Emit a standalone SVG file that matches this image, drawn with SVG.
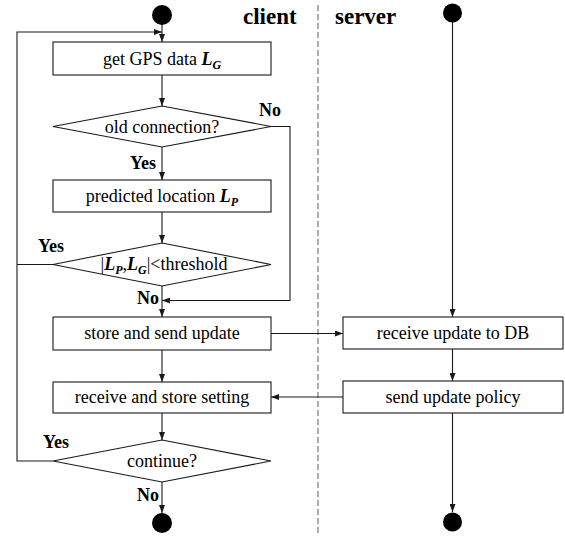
<svg xmlns="http://www.w3.org/2000/svg" width="565" height="536" viewBox="0 0 565 536">
  <defs>
    <marker id="arr" viewBox="0 0 8 6" refX="8" refY="3" markerWidth="8" markerHeight="6" markerUnits="userSpaceOnUse" orient="auto">
      <path d="M0,0 L8,3 L0,6 z" fill="#1a1a1a"/>
    </marker>
    <style>
      .box { fill: #ffffff; stroke: #1a1a1a; stroke-width: 1.1; }
      .dot { fill: #000000; }
      .line { fill: none; stroke: #1a1a1a; stroke-width: 1.1; }
      .arrow { fill: none; stroke: #1a1a1a; stroke-width: 1.1; marker-end: url(#arr); }
      .lane { fill: none; stroke: #777777; stroke-width: 1.2; stroke-dasharray: 6 3; }
      .txt { font-family: "Liberation Serif", "Times New Roman", serif; font-size: 18px; fill: #000; text-anchor: middle; }
      .lbl { font-family: "Liberation Serif", "Times New Roman", serif; font-size: 18px; font-weight: bold; fill: #000; }
      .head { font-family: "Liberation Serif", "Times New Roman", serif; font-size: 23px; font-weight: bold; fill: #000; }
      .var { font-weight: bold; font-style: italic; }
      .sub { font-weight: bold; font-style: italic; font-size: 12px; }
    </style>
  </defs>

  <!-- lane headings and separator -->
  <text class="head" x="243" y="24">client</text>
  <text class="head" x="335" y="24">server</text>
  <line class="lane" x1="318" y1="5" x2="318" y2="536"/>

  <!-- connectors -->
  <g id="connectors">
    <line class="arrow" x1="162" y1="24" x2="162" y2="42"/>
    <polyline class="arrow" points="53,461 17,461 17,32 162,32"/>
    <line class="line" x1="53" y1="264.5" x2="17" y2="264.5"/>
    <line class="arrow" x1="162" y1="75" x2="162" y2="106"/>
    <line class="arrow" x1="162" y1="147" x2="162" y2="180"/>
    <line class="arrow" x1="162" y1="212" x2="162" y2="243"/>
    <line class="arrow" x1="162" y1="286" x2="162" y2="317"/>
    <polyline class="arrow" points="271,126.5 290,126.5 290,300.5 162,300.5"/>
    <line class="arrow" x1="162" y1="350" x2="162" y2="382"/>
    <line class="arrow" x1="162" y1="413" x2="162" y2="440"/>
    <line class="arrow" x1="162" y1="482" x2="162" y2="513"/>
    <line class="arrow" x1="271" y1="333.5" x2="343" y2="333.5"/>
    <line class="arrow" x1="343" y1="397" x2="271" y2="397"/>
    <line class="arrow" x1="452.5" y1="22" x2="452.5" y2="317"/>
    <line class="arrow" x1="452.5" y1="349" x2="452.5" y2="381"/>
    <line class="arrow" x1="452.5" y1="413" x2="452.5" y2="512"/>
  </g>

  <!-- client lane -->
  <g id="client-start"><circle class="dot" cx="162" cy="15" r="10"/></g>

  <g id="get-gps">
    <rect class="box" x="53" y="42" width="218" height="33"/>
    <text class="txt" x="162" y="65">get GPS data <tspan class="var">L</tspan><tspan class="sub" dy="4">G</tspan></text>
  </g>

  <g id="old-connection">
    <polygon class="box" points="162,106 271,126.5 162,147 53,126.5"/>
    <text class="txt" x="162" y="133">old connection?</text>
    <text class="lbl" x="259" y="116">No</text>
    <text class="lbl" x="130" y="169">Yes</text>
  </g>

  <g id="predicted-location">
    <rect class="box" x="53" y="180" width="218" height="32"/>
    <text class="txt" x="162" y="202">predicted location <tspan class="var">L</tspan><tspan class="sub" dy="4">P</tspan></text>
  </g>

  <g id="threshold">
    <polygon class="box" points="162,243 271,264.5 162,286 53,264.5"/>
    <text class="txt" x="164" y="270">|<tspan class="var">L</tspan><tspan class="sub" dy="4">P</tspan><tspan dy="-4">,</tspan><tspan class="var">L</tspan><tspan class="sub" dy="4">G</tspan><tspan dy="-4">|&lt;threshold</tspan></text>
    <text class="lbl" x="38" y="252">Yes</text>
    <text class="lbl" x="137" y="304">No</text>
  </g>

  <g id="store-send">
    <rect class="box" x="53" y="317" width="218" height="33"/>
    <text class="txt" x="162" y="339">store and send update</text>
  </g>

  <g id="receive-store">
    <rect class="box" x="53" y="382" width="218" height="31"/>
    <text class="txt" x="162" y="403">receive and store setting</text>
  </g>

  <g id="continue">
    <polygon class="box" points="162,440 271,461 162,482 53,461"/>
    <text class="txt" x="162" y="467">continue?</text>
    <text class="lbl" x="43" y="448">Yes</text>
    <text class="lbl" x="137" y="501">No</text>
  </g>

  <g id="client-end"><circle class="dot" cx="162" cy="523" r="10"/></g>

  <!-- server lane -->
  <g id="server-start"><circle class="dot" cx="452.5" cy="13" r="9.5"/></g>

  <g id="receive-db">
    <rect class="box" x="343" y="317" width="220" height="32"/>
    <text class="txt" x="453" y="339">receive update to DB</text>
  </g>

  <g id="send-policy">
    <rect class="box" x="343" y="381" width="220" height="32"/>
    <text class="txt" x="453" y="403">send update policy</text>
  </g>

  <g id="server-end"><circle class="dot" cx="452.5" cy="522" r="9.5"/></g>
</svg>
